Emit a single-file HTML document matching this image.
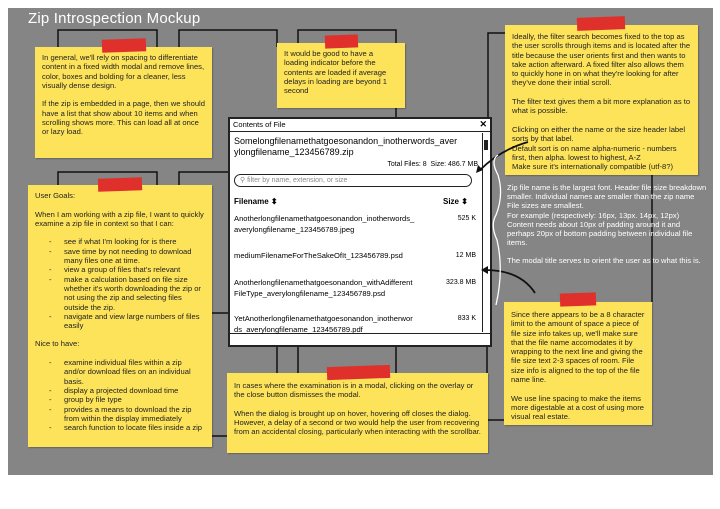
<!DOCTYPE html>
<html><head><meta charset="utf-8"><style>
*{margin:0;padding:0;box-sizing:border-box}
body{width:720px;height:509px;background:#fff;position:relative;overflow:hidden;font-family:"Liberation Sans",sans-serif;}
#bg{position:absolute;left:8px;top:8px;width:705px;height:467px;background:#858585;}
.t{position:absolute;color:#fff;font-size:15px;left:28px;top:10px;letter-spacing:0.2px}
.n{position:absolute;background:#fde35a;color:#222;font-size:7.6px;line-height:9.3px;padding:6px 7px;box-shadow:1px 1px 1px rgba(0,0,0,.25)}
.n p{margin-bottom:9.3px}
.n ul{list-style:none;margin:0 0 9px 0}
.n li{padding-left:29px;position:relative}
.n li:before{content:"-";position:absolute;left:14px}
.tape{position:absolute;background:#e0302c;height:13px;transform:rotate(-2deg)}
svg{position:absolute;left:0;top:0}
#m{position:absolute;left:228px;top:117px;width:264px;height:230px;background:#fff;border:2px solid #222;}
#m .tb{height:13px;border-bottom:1.5px solid #222;font-size:7.5px;padding:1px 3px;position:relative}
#m .x{position:absolute;right:3px;top:0;font-weight:bold;font-size:9px}
.wt{position:absolute;left:507px;top:183px;width:200px;color:#fff;font-size:7.6px;line-height:9.2px}
</style></head><body>
<div id="bg"></div>
<svg width="720" height="509">
<g stroke="#111" stroke-width="1.5" fill="none">
<path d="M58 155V30H157V47"/><path d="M179 47V30H277V47"/><path d="M298 43V30H396V117"/>
<path d="M488 117V33H505"/>
<path d="M58 185V172H157V185"/><path d="M179 185V172H228"/>
<path d="M212 313H228"/><path d="M212 436H228"/>
<path d="M277 347V373"/><path d="M298 347V373"/><path d="M396 347V373"/><path d="M487 347V420H505"/>
<path d="M652 175V302"/>
</g>
</svg>
<div class="t">Zip Introspection Mockup</div>

<div class="n" style="left:35px;top:47px;width:177px;height:111px">
<p>In general, we'll rely on spacing to differentiate content in a fixed width modal and remove lines, color, boxes and bolding for a cleaner, less visually dense design.</p>
<p>If the zip is embedded in a page, then we should have a list that show about 10 items and when scrolling shows more. This can load all at once or lazy load.</p></div>
<div class="tape" style="left:102px;top:39px;width:44px"></div>

<div class="n" style="left:277px;top:43px;width:128px;height:65px;padding-top:6px">It would be good to have a loading indicator before the contents are loaded if average delays in loading are beyond 1 second</div>
<div class="tape" style="left:325px;top:35px;width:33px"></div>

<div class="n" style="left:505px;top:25px;width:193px;height:150px;padding-top:7px">
<p>Ideally, the filter search becomes fixed to the top as the user scrolls through items and is located after the title because the user orients first and then wants to take action afterward. A fixed filter also allows them to quickly hone in on what they're looking for after they've done their intial scroll.</p>
<p>The filter text gives them a bit more explanation as to what is possible.</p>
<div>Clicking on either the name or the size header label sorts by that label.<br>Default sort is on name alpha-numeric - numbers first, then alpha. lowest to highest, A-Z<br>Make sure it's internationally compatible (utf-8?)</div></div>
<div class="tape" style="left:577px;top:17px;width:48px"></div>

<div class="n" style="left:28px;top:185px;width:184px;height:262px">
<p>User Goals:</p>
<p>When I am working with a zip file, I want to quickly examine a zip file in context so that I can:</p>
<ul><li>see if what I'm looking for is there</li><li>save time by not needing to download many files one at time.</li><li>view a group of files that's relevant</li><li>make a calculation based on file size whether it's worth downloading the zip or not using the zip and selecting files outside the zip.</li><li>navigate and view large numbers of files easily</li></ul>
<p>Nice to have:</p>
<ul><li>examine individual files within a zip and/or download files on an individual basis.</li><li>display a projected download time</li><li>group by file type</li><li>provides a means to download the zip from within the display immediately</li><li>search function to locate files inside a zip</li></ul></div>
<div class="tape" style="left:98px;top:178px;width:44px"></div>

<div id="m"><div class="tb">Contents of File<span class="x">✕</span></div>
<div style="position:absolute;right:1px;top:14px;width:7px;height:199px;border-left:1px solid #222"><div style="margin:7px 1px;height:10px;background:#222"></div></div>
<div style="position:absolute;left:0;right:0;bottom:0;height:12px;border-top:1.5px solid #222"></div>
<div style="padding:4px 4px;font-size:9px;line-height:11px;width:250px;white-space:nowrap">Somelongfilenamethatgoesonandon_inotherwords_aver<br>ylongfilename_123456789.zip</div>
<div style="position:absolute;right:12px;top:42px;font-size:7px">Total Files: 8&nbsp; Size: 486.7 MB</div>
<div style="position:absolute;left:4px;top:55px;width:238px;height:13px;border:1.5px solid #222;border-radius:7px;font-size:7px;color:#888;padding:1px 5px">⚲ filter by name, extension, or size</div>
<div style="position:absolute;left:4px;top:78px;font-size:8px;font-weight:bold">Filename ⬍</div>
<div style="position:absolute;left:213px;top:78px;font-size:8px;font-weight:bold">Size ⬍</div>
<div style="position:absolute;left:4px;top:95px;font-size:7.6px;line-height:10.5px;width:252px">
<div style="height:37px;position:relative">Anotherlongfilenamethatgoesonandon_inotherwords_<br>averylongfilename_123456789.jpeg<span style="position:absolute;right:10px;top:0;font-size:7px">525 K</span></div>
<div style="height:27px;position:relative">mediumFilenameForTheSakeOfIt_123456789.psd<span style="position:absolute;right:10px;top:0;font-size:7px">12 MB</span></div>
<div style="height:36px;position:relative">Anotherlongfilenamethatgoesonandon_withAdifferent<br>FileType_averylongfilename_123456789.psd<span style="position:absolute;right:10px;top:0;font-size:7px">323.8 MB</span></div>
<div style="position:relative">YetAnotherlongfilenamethatgoesonandon_inotherwor<br>ds_averylongfilename_123456789.pdf<span style="position:absolute;right:10px;top:0;font-size:7px">833 K</span></div>
</div></div>

<div class="wt"><p style="margin-bottom:9px">Zip file name is the largest font. Header file size breakdown smaller. Individual names are smaller than the zip name File sizes are smallest.<br>For example (respectively: 16px, 13px. 14px, 12px)<br>Content needs about 10px of padding around it and perhaps 20px of bottom padding between individual file items.</p>The modal title serves to orient the user as to what this is.</div>

<div class="n" style="left:504px;top:302px;width:148px;height:123px;padding-top:8px">
<p>Since there appears to be a 8 character limit to the amount of space a piece of file size info takes up, we'll make sure that the file name accomodates it by wrapping to the next line and giving the file size text 2-3 spaces of room. File size info is aligned to the top of the file name line.</p>
<p>We use line spacing to make the items more digestable at a cost of using more visual real estate.</p></div>
<div class="tape" style="left:560px;top:293px;width:36px"></div>

<div class="n" style="left:227px;top:373px;width:261px;height:80px;padding-top:8px">
<p>In cases where the examination is in a modal, clicking on the overlay or the close button dismisses the modal.</p>
<p>When the dialog is brought up on hover, hovering off closes the dialog. However, a delay of a second or two would help the user from recovering from an accidental closing, particularly when interacting with the scrollbar.</p></div>
<div class="tape" style="left:327px;top:366px;width:63px"></div>

<svg width="720" height="509">
<path d="M528 142 Q500 150 480 170" stroke="#111" stroke-width="1.8" fill="none"/>
<path d="M476 173 l2 -8 l5 5z" fill="#111"/>
<path d="M535 293 Q520 270 485 270" stroke="#111" stroke-width="1.8" fill="none"/>
<path d="M481 270 l7 -4 l0 8z" fill="#111"/>
<path d="M498 155 Q490 160 498 175 Q504 195 496 215 Q490 225 497 240 Q504 270 496 305" stroke="#fff" stroke-width="1.3" fill="none"/>
</svg>
</body></html>
